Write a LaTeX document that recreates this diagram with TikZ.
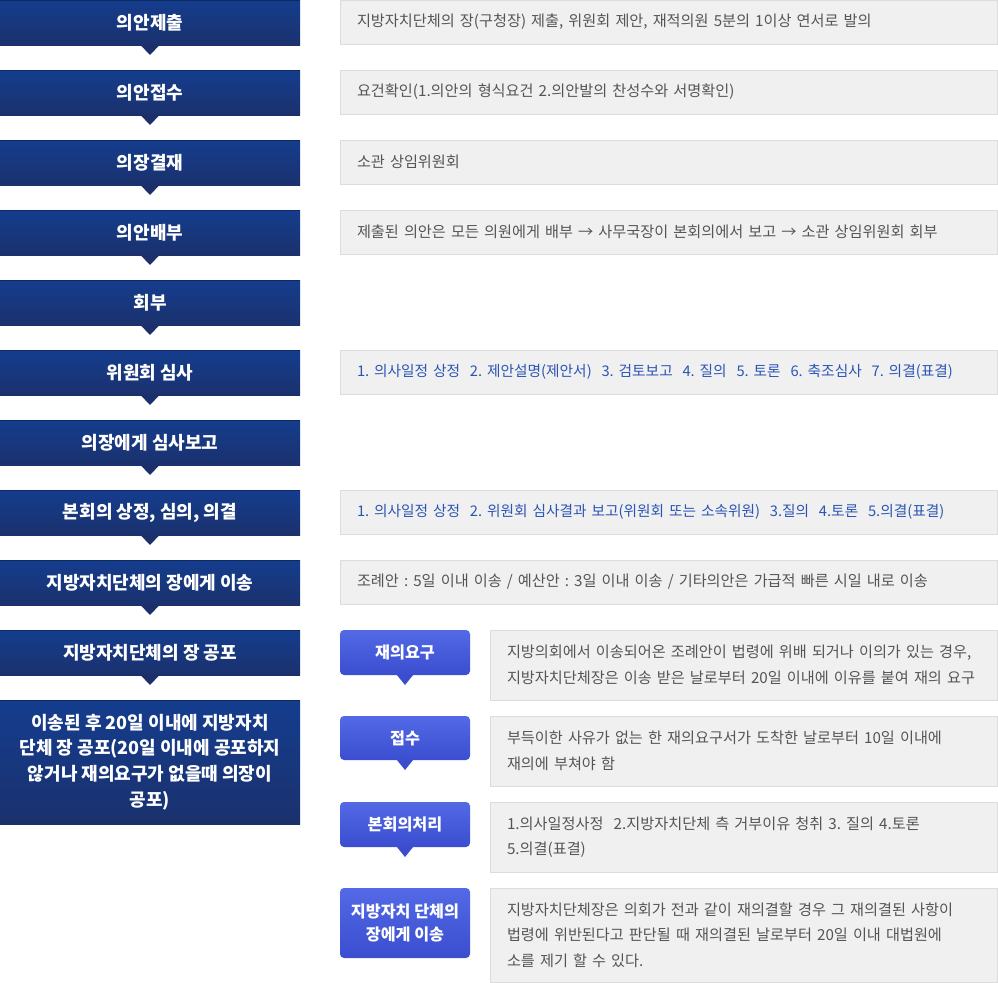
\documentclass[tikz,border=0pt]{standalone}
\usepackage{fontspec}
\setmainfont{Noto Sans CJK KR}
\usetikzlibrary{calc}
\definecolor{ltop}{HTML}{143D8E}
\definecolor{lbot}{HTML}{1B316D}
\definecolor{lline}{HTML}{12295F}
\definecolor{ltri}{HTML}{1B2F6A}
\definecolor{btop}{HTML}{5369E6}
\definecolor{bbot}{HTML}{3A4ECF}
\definecolor{btri}{HTML}{3B4DCC}
\definecolor{gfill}{HTML}{F0F0F0}
\definecolor{gborder}{HTML}{DCDCDC}
\definecolor{gtext}{HTML}{555555}
\definecolor{btext}{HTML}{2B55B5}
\frenchspacing
\begin{document}
\begin{tikzpicture}[x=1bp,y=-1bp,
  lbox/.style={rectangle, minimum width=300bp, minimum height=45bp, inner sep=0pt, outer sep=0pt,
    top color=ltop, bottom color=lbot, text=white, align=center,
    font=\bfseries\fontsize{18bp}{25.7bp}\selectfont},
  gbox/.style={rectangle, draw=gborder, line width=1bp, fill=gfill, minimum width=657bp, minimum height=44bp,
    inner xsep=17bp, inner ysep=0pt, outer sep=0pt, text width=623bp, align=left, text=gtext,
    font=\fontsize{15.2bp}{25.5bp}\selectfont},
  bluetext/.style={text=btext, font=\fontsize{14.7bp}{25.5bp}\selectfont},
  gboxs/.style={gbox, minimum width=507bp, text width=473bp, minimum height=70bp},
  bubble/.style={rectangle, rounded corners=4bp, minimum width=130bp, minimum height=45bp, inner sep=0pt, outer sep=0pt,
    top color=btop, bottom color=bbot, text=white, align=center,
    font=\bfseries\fontsize{16.2bp}{23.5bp}\selectfont},
  ltrifill/.style={fill=ltri},
  btrifill/.style={fill=btri},
  topline/.style={draw=lline, line width=1.2bp}
]
\useasboundingbox (0,0) rectangle (998,983);

% left column
\node[lbox] (L1) at (150,22.5) {의안제출};
\node[lbox] (L2) at (150,92.5) {의안접수};
\node[lbox] (L3) at (150,162.5) {의장결재};
\node[lbox] (L4) at (150,232.5) {의안배부};
\node[lbox] (L5) at (150,302.5) {회부};
\node[lbox] (L6) at (150,372.5) {위원회 심사};
\node[lbox] (L7) at (150,442.5) {의장에게 심사보고};
\node[lbox] (L8) at (150,512.5) {본회의 상정, 심의, 의결};
\node[lbox] (L9) at (150,582.5) {지방자치단체의 장에게 이송};
\node[lbox] (L10) at (150,652.5) {지방자치단체의 장 공포};
\node[lbox, minimum height=124bp] (L11) at (150,762) {이송된 후 20일 이내에 지방자치\\단체 장 공포(20일 이내에 공포하지\\않거나 재의요구가 없을때 의장이\\공포)};

\foreach \n in {L1,L2,L3,L4,L5,L6,L7,L8,L9,L10,L11}{
  \draw[topline] ($(\n.north west)+(0,-0.6bp)$) -- ($(\n.north east)+(0,-0.6bp)$);
}
\foreach \n in {L1,L2,L3,L4,L5,L6,L7,L8,L9,L10}{
  \fill[ltrifill] ($(\n.south)+(-10bp,0.5bp)$) -- ($(\n.south)+(10bp,0.5bp)$) -- ($(\n.south)+(0,-10bp)$) -- cycle;
}

% right column, upper
\node[gbox] (G1) at (668.5,22) {지방자치단체의 장(구청장) 제출, 위원회 제안, 재적의원 5분의 1이상 연서로 발의};
\node[gbox] (G2) at (668.5,92) {요건확인(1.의안의 형식요건 2.의안발의 찬성수와 서명확인)};
\node[gbox] (G3) at (668.5,162) {소관 상임위원회};
\node[gbox] (G4) at (668.5,232) {제출된 의안은 모든 의원에게 배부 → 사무국장이 본회의에서 보고 → 소관 상임위원회 회부};
\node[gbox, bluetext] (G6) at (668.5,372) {1. 의사일정 상정\ \ 2. 제안설명(제안서)\ \ 3. 검토보고\ \ 4. 질의\ \ 5. 토론\ \ 6. 축조심사\ \ 7. 의결(표결)};
\node[gbox, bluetext] (G8) at (668.5,512) {1. 의사일정 상정\ \ 2. 위원회 심사결과 보고(위원회 또는 소속위원)\ \ 3.질의\ \ 4.토론\ \ 5.의결(표결)};
\node[gbox] (G9) at (668.5,582) {조례안 : 5일 이내 이송 / 예산안 : 3일 이내 이송 / 기타의안은 가급적 빠른 시일 내로 이송};

% bubbles
\node[bubble] (B1) at (405,652.5) {재의요구};
\node[bubble, minimum height=44bp] (B2) at (405,738) {접수};
\node[bubble] (B3) at (405,824.5) {본회의처리};
\node[bubble, minimum height=70bp] (B4) at (405,923) {지방자치 단체의\\장에게 이송};
\foreach \n in {B1,B2,B3}{
  \fill[btrifill] ($(\n.south)+(-8.5bp,0.5bp)$) -- ($(\n.south)+(8.5bp,0.5bp)$) -- ($(\n.south)+(0,-10bp)$) -- cycle;
}

% right column, lower
\node[gboxs] (H1) at (743.5,665) {지방의회에서 이송되어온 조례안이 법령에 위배 되거나 이의가 있는 경우,\\지방자치단체장은 이송 받은 날로부터 20일 이내에 이유를 붙여 재의 요구};
\node[gboxs] (H2) at (743.5,751) {부득이한 사유가 없는 한 재의요구서가 도착한 날로부터 10일 이내에\\재의에 부쳐야 함};
\node[gboxs] (H3) at (743.5,837) {1.의사일정사정\ \ 2.지방자치단체 측 거부이유 청취 3. 질의 4.토론\\5.의결(표결)};
\node[gboxs, minimum height=94bp] (H4) at (743.5,935) {지방자치단체장은 의회가 전과 같이 재의결할 경우 그 재의결된 사항이\\법령에 위반된다고 판단될 때 재의결된 날로부터 20일 이내 대법원에\\소를 제기 할 수 있다.};
\end{tikzpicture}
\end{document}
